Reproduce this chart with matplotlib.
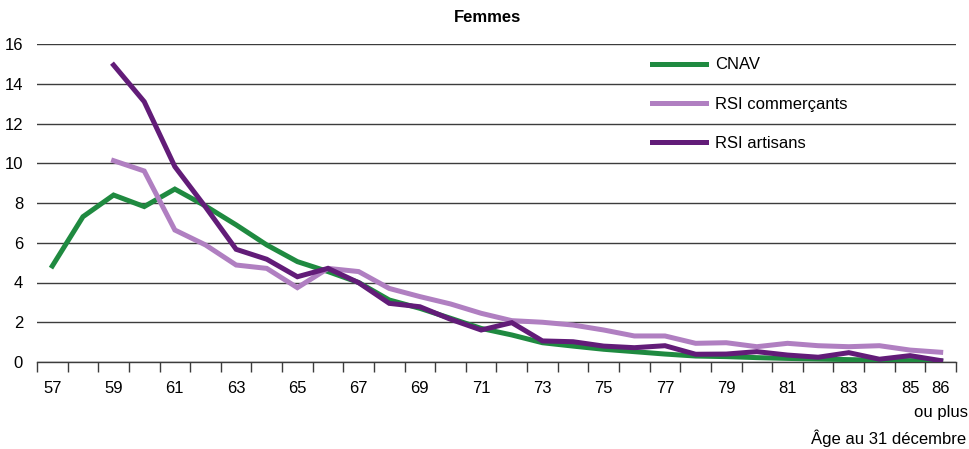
import matplotlib
matplotlib.use("Agg")
import matplotlib.pyplot as plt
from matplotlib import font_manager as fm
import numpy as np

ages = list(range(57, 87))
tick_labels = ["57", "59", "61", "63", "65", "67", "69", "71", "73", "75", "77", "79", "81", "83", "85", "86"]
tick_ages = [57, 59, 61, 63, 65, 67, 69, 71, 73, 75, 77, 79, 81, 83, 85, 86]
last_label_extra = "ou plus"

cnav = [4.83, 7.31, 8.40, 7.82, 8.70, 7.85, 6.9, 5.89, 5.05, 4.55, 4.0, 3.12, 2.7, 2.2,
        1.69, 1.36, 0.97, 0.8, 0.64, 0.52, 0.4, 0.3, 0.27, 0.22, 0.18, 0.15, 0.12, 0.09, 0.07, 0.05]
commercants = [None, None, 10.13, 9.61, 6.64, 5.89, 4.88, 4.71, 3.74, 4.71, 4.55, 3.7, 3.29, 2.92,
               2.45, 2.08, 2.0, 1.86, 1.61, 1.31, 1.31, 0.94, 0.97, 0.77, 0.94, 0.82, 0.77, 0.82, 0.6, 0.49]
artisans = [None, None, 14.94, 13.1, 9.83, 7.8, 5.67, 5.17, 4.29, 4.71, 3.99, 2.95, 2.78, 2.15,
            1.61, 1.98, 1.06, 1.02, 0.8, 0.72, 0.82, 0.39, 0.4, 0.52, 0.35, 0.24, 0.47, 0.14, 0.32, 0.07]

series = [("CNAV", cnav, "#1F8A40"),
          ("RSI commerçants", commercants, "#B07FC1"),
          ("RSI artisans", artisans, "#621C78")]

names = {f.name for f in fm.fontManager.ttflist}
fam = "Liberation Sans Narrow" if "Liberation Sans Narrow" in names else "Liberation Sans"
plt.rcParams["font.family"] = [fam, "DejaVu Sans"]
FS = 12

fig = plt.figure(figsize=(9.7, 4.49), dpi=100)
ax = fig.add_axes([37/970, 1-362/449, (956-37)/970, (362-44)/449])

x = np.arange(len(ages))
for name, vals, col in series:
    y = np.array([np.nan if v is None else v for v in vals], dtype=float)
    ax.plot(x, y, color=col, lw=3.6, label=name, solid_joinstyle="miter", zorder=3)

ax.set_xlim(-0.5, len(ages) - 0.5)
ax.set_ylim(0, 16)
ax.set_yticks(np.arange(0, 17, 2))
ax.yaxis.grid(True, color="#3c3c3c", lw=1.0, zorder=0)
ax.set_axisbelow(True)
ax.tick_params(axis="y", length=0, labelsize=FS, pad=10)

ax.set_xticks(np.arange(-0.5, len(ages), 1.0))
ax.set_xticklabels([])
ax.tick_params(axis="x", which="major", length=7, width=1, color="#3c3c3c", direction="out")
ax.set_xticks([ages.index(a) for a in tick_ages], minor=True)
ax.set_xticklabels(tick_labels, minor=True, fontsize=FS)
ax.tick_params(axis="x", which="minor", length=0, pad=14)

ax.annotate(last_label_extra, xy=(ages.index(86), 0), xycoords=("data", "axes fraction"),
            xytext=(0, -50), textcoords="offset pixels", ha="center", va="center", fontsize=FS)

for s in ["left", "right", "top"]:
    ax.spines[s].set_visible(False)
ax.spines["bottom"].set_color("#3c3c3c")
ax.spines["bottom"].set_linewidth(1.0)

leg = ax.legend(loc="upper left", bbox_to_anchor=((644-37)/919, 0.984), frameon=False,
                fontsize=FS, handlelength=3.2, handletextpad=0.55, labelspacing=1.46, borderpad=0)

fig.text(488/970, 1-17/449, "Femmes", ha="center", va="center", fontsize=FS, fontweight="bold")
fig.text(966/970, 1-438/449, "Âge au 31 décembre", ha="right", va="center", fontsize=FS)

fig.savefig("out.png", dpi=100)
